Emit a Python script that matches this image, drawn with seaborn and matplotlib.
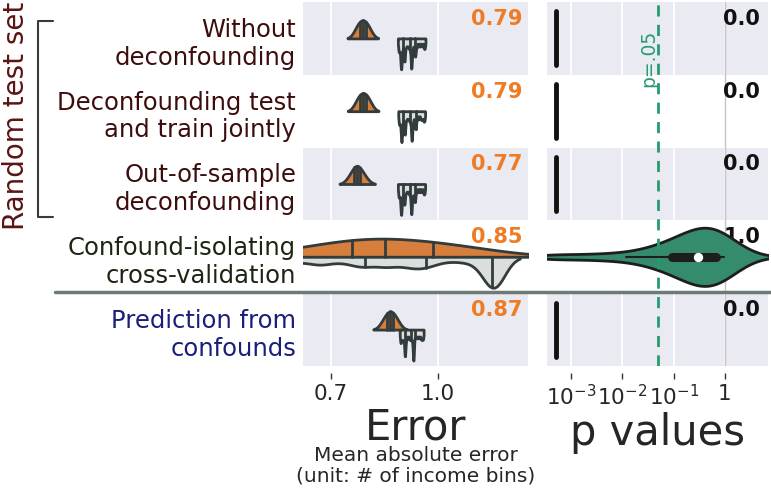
import numpy as np
import pandas as pd
import matplotlib.pyplot as plt
from matplotlib.lines import Line2D
import seaborn as sns

# -----------------------------
# Data
# -----------------------------
methods = ["Without\ndeconfounding", "Deconfounding test\nand train jointly",
           "Out-of-sample\ndeconfounding", "Confound-isolating\ncross-validation",
           "Prediction from\nconfounds"]
label_colors = ["#3d0d0d", "#3d0d0d", "#3d0d0d", "#1c2412", "#1a1f7a"]

# mean absolute error of the model (orange, upper half)
err_without = [0.768, 0.772, 0.776, 0.780, 0.783, 0.786, 0.789, 0.792, 0.795, 0.798, 0.802, 0.806, 0.810]
err_joint = [0.769, 0.773, 0.777, 0.781, 0.784, 0.787, 0.790, 0.793, 0.796, 0.799, 0.803, 0.807, 0.811]
err_oos = [0.748, 0.755, 0.761, 0.765, 0.768, 0.771, 0.773, 0.775, 0.778, 0.781, 0.786, 0.792, 0.799]
err_cicv = [0.58, 0.62, 0.66, 0.70, 0.74, 0.765, 0.78, 0.80, 0.82, 0.845,
            0.855, 0.87, 0.90, 0.94, 0.98, 1.00, 1.02, 1.05, 1.10, 1.16]
err_conf = [0.842, 0.848, 0.853, 0.857, 0.860, 0.863, 0.866, 0.869, 0.872, 0.875, 0.879, 0.884, 0.889]

# error under permutation (gray, lower half)
null_without = [0.889, 0.891, 0.894, 0.896, 0.896, 0.897, 0.898, 0.901, 0.905, 0.906, 0.906, 0.910,
                0.914, 0.918, 0.921, 0.924, 0.925, 0.925, 0.926, 0.929, 0.933, 0.936, 0.936,
                0.940, 0.945, 0.950, 0.955, 0.960, 0.963]
null_joint = [0.890, 0.892, 0.895, 0.897, 0.897, 0.898, 0.899, 0.902, 0.906, 0.907, 0.907, 0.911,
              0.915, 0.919, 0.922, 0.925, 0.926, 0.926, 0.927, 0.930, 0.934, 0.937, 0.937,
              0.941, 0.946, 0.951, 0.955, 0.959, 0.962]
null_oos = [0.889, 0.891, 0.894, 0.896, 0.896, 0.897, 0.898, 0.901, 0.904, 0.906, 0.906, 0.910,
            0.914, 0.918, 0.921, 0.924, 0.925, 0.925, 0.926, 0.929, 0.932, 0.935, 0.935,
            0.939, 0.944, 0.949, 0.954, 0.959, 0.962]
null_cicv = [0.58, 0.62, 0.665, 0.675, 0.72, 0.76, 0.785, 0.795, 0.83, 0.855, 0.865, 0.90,
             0.925, 0.935, 0.965, 0.97, 1.01, 1.06, 1.10, 1.14, 1.145, 1.15, 1.152, 1.155,
             1.158, 1.16, 1.163, 1.165, 1.17]
null_conf = [0.894, 0.896, 0.899, 0.902, 0.905, 0.907, 0.907, 0.908, 0.911, 0.915, 0.919,
             0.922, 0.925, 0.928, 0.930, 0.931, 0.931, 0.932, 0.936, 0.940, 0.944, 0.948,
             0.952, 0.955, 0.958]

# permutation p values
p_without = [0.0005, 0.0005, 0.0005, 0.0005, 0.0005, 0.0005]
p_joint = [0.0005, 0.0005, 0.0005, 0.0005, 0.0005, 0.0005]
p_oos = [0.0005, 0.0005, 0.0005, 0.0005, 0.0005, 0.0005]
p_cicv = [0.0005, 0.003, 0.012, 0.03, 0.05, 0.07, 0.10, 0.13, 0.16, 0.20, 0.24, 0.28,
          0.32, 0.36, 0.41, 0.46, 0.52, 0.65, 0.74, 0.78, 0.82, 0.87, 0.92, 0.97]
p_conf = [0.0005, 0.0005, 0.0005, 0.0005, 0.0005, 0.0005]

err_text = ["0.79", "0.79", "0.77", "0.85", "0.87"]
p_text = ["0.0", "0.0", "0.0", "1.0", "0.0"]

# -----------------------------
# Long tables
# -----------------------------
rows = []
for m, vals in zip(methods, [err_without, err_joint, err_oos, err_cicv, err_conf]):
    rows += [(m, "score", v) for v in vals]
for m, vals in zip(methods, [null_without, null_joint, null_oos, null_cicv, null_conf]):
    rows += [(m, "null", v) for v in vals]
err_df = pd.DataFrame(rows, columns=["method", "kind", "error"])

rows = []
for m, vals in zip(methods, [p_without, p_joint, p_oos, p_cicv, p_conf]):
    rows += [(m, v) for v in vals]
p_df = pd.DataFrame(rows, columns=["method", "p"])
spread = p_df.groupby("method")["p"].transform("std")
p_var = p_df[spread > 0]      # proper distributions -> violins
p_flat = p_df[spread == 0]    # all permutations give the same p -> a bar

# -----------------------------
# Style
# -----------------------------
sns.set_style("white")
plt.rcParams["font.family"] = ["DejaVu Sans"]

ORANGE = "#ef7b24"
GRAY = "#dcdddd"
GREEN = "#269b70"
EDGE = "#333c3c"
BAND = "#eaeaf2"
VIOLIN_W = 0.8

fig = plt.figure(figsize=(7.71, 4.89), dpi=100)
ax_err = fig.add_axes([303 / 771, 1 - 367 / 489, 225 / 771, 364 / 489])
ax_p = fig.add_axes([547 / 771, 1 - 367 / 489, 221 / 771, 364 / 489])

palette = {"score": ORANGE, "null": GRAY}
split_kws = dict(x="error", y="method", order=methods, hue="kind", hue_order=["score", "null"],
                 palette=palette, split=True, dodge=True, inner="quart", density_norm="width",
                 linewidth=2, linecolor=EDGE, legend=False, ax=ax_err)

# model error, upper half
sns.violinplot(data=err_df[err_df["kind"] == "score"], width=0.5, bw_adjust=1.4, **split_kws)

# permutation error, lower half (the wide null of the confound-isolating CV gets a wider kernel)
null_df = err_df[err_df["kind"] == "null"]
wide = null_df["method"] == methods[3]
sns.violinplot(data=null_df[~wide], width=0.85, bw_adjust=0.15, cut=1, **split_kws)
sns.violinplot(data=null_df[wide], width=0.85, bw_adjust=0.3, cut=2, **split_kws)
for line in ax_err.lines:
    line.set_linestyle("-")

sns.violinplot(data=p_var, x="p", y="method", order=methods, color=GREEN, log_scale=True,
               inner="box", inner_kws=dict(box_width=6.5, whis_width=1.5, marker="o"),
               width=VIOLIN_W, density_norm="width", linewidth=2,
               linecolor="#1e1e1e", ax=ax_p)
for line in ax_p.lines:
    line.set_linestyle("-")
    line.set_solid_capstyle("round")

pos = {m: i for i, m in enumerate(methods)}
for m, grp in p_flat.groupby("method"):
    i = pos[m]
    ax_p.vlines(grp["p"].iloc[0], i - VIOLIN_W / 2 + 0.03, i + VIOLIN_W / 2 - 0.03,
                color="#111111", lw=3.5, capstyle="round", zorder=2)

# -----------------------------
# Axes cosmetics
# -----------------------------
for ax in (ax_err, ax_p):
    ax.set_ylim(len(methods) - 0.5, -0.5)
    for i in range(len(methods)):
        if i % 2 == 0:
            ax.axhspan(i - 0.5, i + 0.5, color=BAND, zorder=0, lw=0)
    ax.grid(axis="x", color="white", lw=1.3)
    ax.set_axisbelow(True)
    for s in ax.spines.values():
        s.set_visible(False)
    ax.spines["bottom"].set_position(("outward", 5))
    ax.tick_params(axis="x", bottom=True, length=4, width=1, color="#333333",
                   labelsize=15.5, pad=3)
    ax.tick_params(axis="y", left=False, length=0)
    ax.set_ylabel("")

ax_err.set_xlim(0.6215, 1.252)
ax_err.set_xticks([0.7, 1.0])
ax_err.set_xticklabels(["0.7", "1.0"])
ax_err.tick_params(axis="y", labelsize=17.5, pad=5)
for lab, c in zip(ax_err.get_yticklabels(), label_colors):
    lab.set_color(c)
ax_err.set_xlabel("Error", fontsize=30, labelpad=2)

ax_p.set_xlim(10 ** -3.468, 10 ** 0.838)
ax_p.set_xticks([1e-3, 1e-2, 1e-1, 1])
ax_p.set_xticklabels([r"$10^{-3}$", r"$10^{-2}$", r"$10^{-1}$", "1"])
ax_p.minorticks_off()
ax_p.set_yticklabels([])
ax_p.set_xlabel("p values", fontsize=30, labelpad=2)
ax_p.axvline(1, color="#c4c4c4", lw=1, zorder=0.6)
ax_p.axvline(0.05, color=GREEN, lw=2, ls=(0, (4, 3)), zorder=3)
ax_p.text(0.05, 0.26, "p=.05", rotation=90, color=GREEN, fontsize=13.5,
          ha="right", va="center")

for i, (t1, t2) in enumerate(zip(err_text, p_text)):
    ax_err.text(0.975, i - 0.42, t1, transform=ax_err.get_yaxis_transform(),
                ha="right", va="top", fontsize=15, fontweight="bold", color=ORANGE, zorder=0.9)
    ax_p.text(0.965, i - 0.42, t2, transform=ax_p.get_yaxis_transform(),
              ha="right", va="top", fontsize=15, fontweight="bold", color="#111111", zorder=0.9)

fig.text(415.5 / 771, 1 - 446 / 489, "Mean absolute error\n(unit: # of income bins)",
         ha="center", va="top", fontsize=14.5, linespacing=1.1)

# bracket for the random test set rows
fig.add_artist(Line2D([53 / 771, 38 / 771, 38 / 771, 53 / 771],
                      [1 - 22 / 489, 1 - 22 / 489, 1 - 218 / 489, 1 - 218 / 489],
                      color="#3a3a3a", lw=1.5))
fig.text(16 / 771, 1 - 116 / 489, "Random test set", rotation=90, ha="center", va="center",
         fontsize=20, color="#5a1414")

# separator
fig.add_artist(Line2D([55 / 771, 1], [1 - 293 / 489, 1 - 293 / 489], color="#6d7b77", lw=2.5))

fig.savefig("out.png", dpi=100)
